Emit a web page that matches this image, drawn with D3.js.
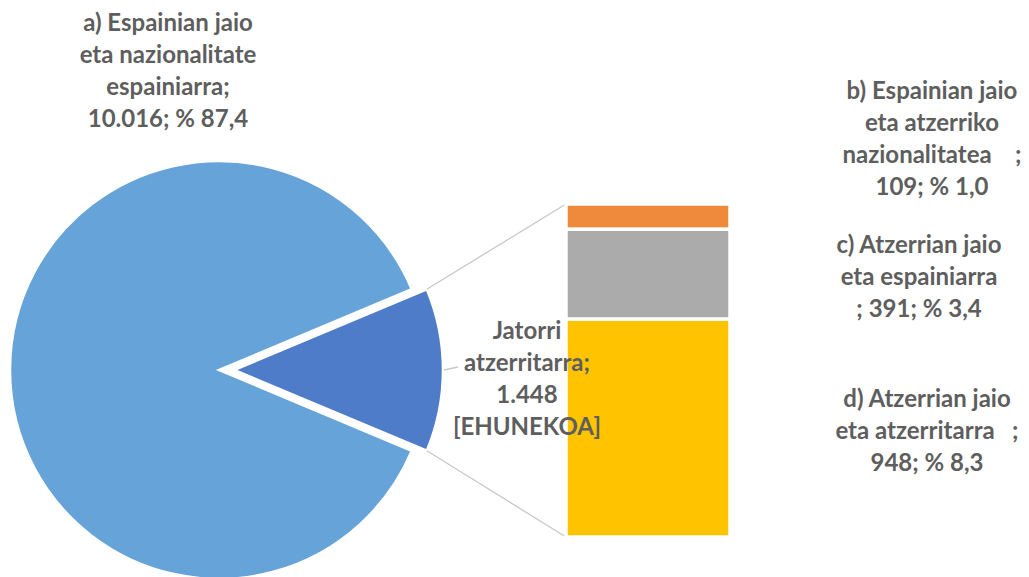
<!DOCTYPE html>
<html>
<head>
<meta charset="utf-8">
<script src="https://cdn.jsdelivr.net/npm/d3@7"></script>
<style>
  body { margin: 0; background: #fff; }
  svg text { font-family: Lato, "Open Sans", sans-serif; font-weight: bold; fill: #5E5E5E; white-space: pre; }
</style>
</head>
<body>
<figure id="pieBar" style="margin:0"></figure>
<script>
// pie: spanish-born & spanish vs. foreign origin
var pieNames = ["a", "Jatorri atzerritarra"];
var pieValues = [10016, 1448];
var pieColors = ["#65A3D9", "#4E7CC8"];

// bar: the foreign-origin split, bottom to top
var barNames = ["d", "c", "b"];
var barValues = [948, 391, 109];
var barColors = ["#FFC300", "#ABABAB", "#EF8A3C"];

// label text, one array per label
var labelA = ["a) Espainian jaio", "eta nazionalitate", "espainiarra;", "10.016; % 87,4"];
var labelB = ["b) Espainian jaio", "eta atzerriko", "nazionalitatea    ;", "109; % 1,0"];
var labelC = ["c) Atzerrian jaio", "eta espainiarra", "; 391; % 3,4"];
var labelD = ["d) Atzerrian jaio", "eta atzerritarra   ;", "948; % 8,3"];
var labelMid = ["Jatorri", "atzerritarra;", "1.448", "[EHUNEKOA]"];

function pieOfBar() {
  var width = 1029, height = 577;
  var cx = 219, cy = 370, r = 209, explode = 15;

  var svg = d3.select("figure#pieBar")
    .append("svg")
    .attr("width", width)
    .attr("height", height);

  // small slice is centred on the right (pi/2 in d3 angles)
  var total = d3.sum(pieValues);
  var half = Math.PI * pieValues[1] / total;
  var pie = d3.pie().sort(null)
    .startAngle(Math.PI / 2 + half)
    .endAngle(Math.PI / 2 + half + 2 * Math.PI);
  var arcs = pie(pieValues);
  var arc = d3.arc().innerRadius(0).outerRadius(r);

  svg.append("g")
    .attr("transform", "translate(" + cx + "," + cy + ")")
    .selectAll("path")
    .data(arcs)
    .enter()
    .append("path")
    .attr("d", arc)
    .attr("fill", function(d, i) { return pieColors[i]; })
    .attr("stroke", "#fff")
    .attr("stroke-width", 2.5)
    .attr("transform", function(d, i) {
      if (i == 0) return null;
      var mid = (d.startAngle + d.endAngle) / 2;
      return "translate(" + (explode * Math.sin(mid)) + "," + (-explode * Math.cos(mid)) + ")";
    });

  // bar scales
  var y = d3.scaleLinear().domain([0, d3.sum(barValues)]).range([537, 204]);
  var x = d3.scaleBand().domain(["bar"]).range([566, 730]);
  var cum = d3.cumsum(barValues);

  // connector lines from exploded slice to bar corners
  var s = arcs[1];
  var ox = cx + explode;
  var topPt = [ox + r * Math.sin(s.startAngle), cy - r * Math.cos(s.startAngle)];
  var botPt = [ox + r * Math.sin(s.endAngle), cy - r * Math.cos(s.endAngle)];
  svg.append("line")
    .attr("x1", topPt[0]).attr("y1", topPt[1])
    .attr("x2", x("bar")).attr("y2", y(cum[cum.length - 1]))
    .attr("stroke", "#C8C8C8").attr("stroke-width", 1.3);
  svg.append("line")
    .attr("x1", botPt[0]).attr("y1", botPt[1])
    .attr("x2", x("bar")).attr("y2", y(0))
    .attr("stroke", "#C8C8C8").attr("stroke-width", 1.3);

  svg.append("g")
    .selectAll("rect")
    .data(barValues)
    .enter()
    .append("rect")
    .attr("x", x("bar"))
    .attr("width", x.bandwidth())
    .attr("y", function(d, i) { return y(cum[i]); })
    .attr("height", function(d, i) { return y(cum[i] - d) - y(cum[i]); })
    .attr("fill", function(d, i) { return barColors[i]; })
    .attr("stroke", "#fff")
    .attr("stroke-width", 3.5);

  // leader line for the foreign-origin label
  svg.append("line")
    .attr("x1", ox + r + 1).attr("y1", cy)
    .attr("x2", 458).attr("y2", cy - 3)
    .attr("stroke", "#C8C8C8").attr("stroke-width", 1.3);

  function label(lines, lx, ly) {
    var t = svg.append("text")
      .attr("text-anchor", "middle")
      .attr("font-size", 24);
    t.selectAll("tspan")
      .data(lines)
      .enter()
      .append("tspan")
      .attr("x", lx)
      .attr("y", function(d, i) { return ly + i * 32; })
      .text(function(d) { return d; });
  }

  label(labelA, 168, 31);
  label(labelB, 932, 99);
  label(labelC, 919, 253);
  label(labelD, 927, 407);
  label(labelMid, 527, 339);
}

pieOfBar();
</script>
</body>
</html>
